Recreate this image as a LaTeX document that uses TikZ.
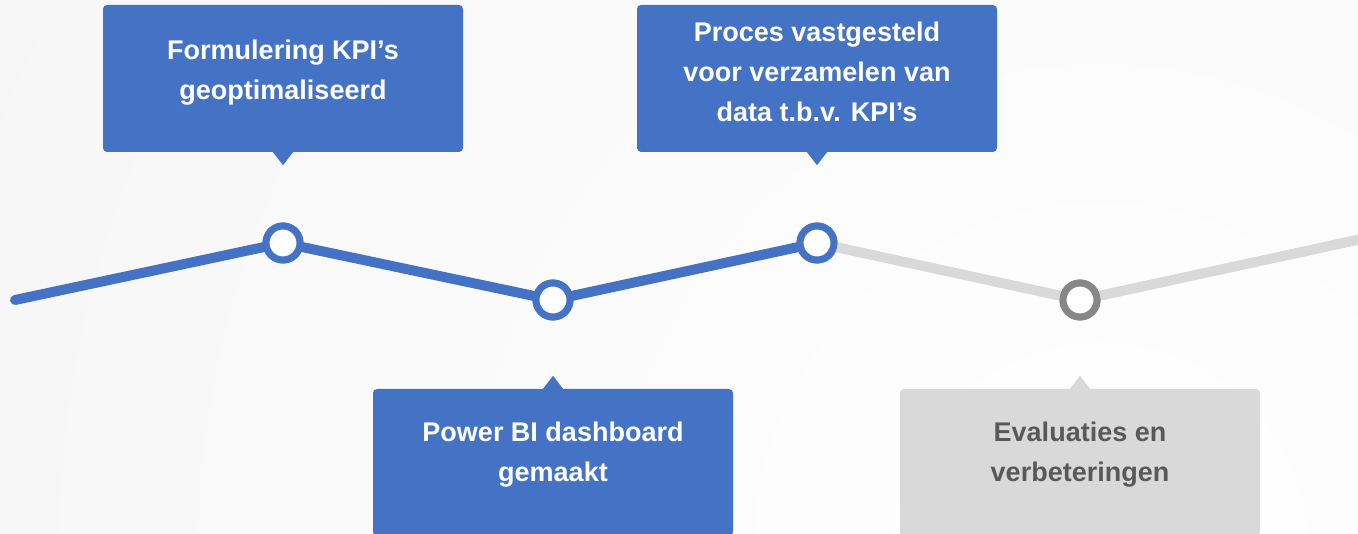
\documentclass[tikz,border=0pt]{standalone}
\usepackage{fontspec}
\setmainfont{Liberation Sans}
\definecolor{kblue}{HTML}{4472C4}
\definecolor{kgray}{HTML}{D9D9D9}
\definecolor{kring}{HTML}{878787}
\definecolor{ktext}{HTML}{595959}
\definecolor{kbg}{HTML}{EDEDED}
\begin{document}
\begin{tikzpicture}[x=1pt,y=-1pt,
  box/.style={rectangle, rounded corners=4pt, minimum width=360pt, minimum height=147pt, inner sep=0pt},
  bluebox/.style={box, fill=kblue},
  graybox/.style={box, fill=kgray},
  lbl/.style={align=center, font=\fontsize{27}{40}\selectfont\bfseries, inner sep=0pt},
  whitelbl/.style={lbl, text=white},
  graylbl/.style={lbl, text=ktext},
  dot/.style={circle, minimum size=34pt, inner sep=0pt, line width=7pt, fill=white},
  bluedot/.style={dot, draw=kblue},
  graydot/.style={dot, draw=kring},
  blueline/.style={draw=kblue, line width=10pt, line cap=round, line join=round},
  grayline/.style={draw=kgray, line width=10pt, line join=round}]
\useasboundingbox (0,0) rectangle (1358,534);
\clip (0,0) rectangle (1358,534);
% background
\shade[inner color=white, outer color=kbg] (-1400,-1950) rectangle (3600,3050);
% milestones
\node[bluedot] (c1) at (283,243) {};
\node[bluedot] (c2) at (553,300) {};
\node[bluedot] (c3) at (817,243) {};
\node[graydot] (c4) at (1080,300) {};
\coordinate (start) at (15,300);
\coordinate (finish) at (1380,235);
% connectors
\path[grayline] (c3.center) -- (c4.center) -- (finish);
\path[blueline] (start) -- (c1.center) -- (c2.center) -- (c3.center);
\node[bluedot] at (c1) {};
\node[bluedot] at (c2) {};
\node[bluedot] at (c3) {};
\node[graydot] at (c4) {};
% boxes
\node[bluebox] (b1) at (283,78.5) {};
\fill[kblue] ([xshift=-10pt]b1.south) -- ([xshift=10pt]b1.south) -- ([yshift=-13pt]b1.south) -- cycle;
\node[whitelbl] (t1) at (283,72.4) {Formulering KPI’s\\geoptimaliseerd};
\node[bluebox] (b2) at (817,78.5) {};
\fill[kblue] ([xshift=-10pt]b2.south) -- ([xshift=10pt]b2.south) -- ([yshift=-13pt]b2.south) -- cycle;
\node[whitelbl] (t2) at (817,72) {Proces vastgesteld\\voor verzamelen van\\data t.b.v. KPI’s};
\node[bluebox] (b3) at (553,462.5) {};
\fill[kblue] ([xshift=-10pt]b3.north) -- ([xshift=10pt]b3.north) -- ([yshift=13pt]b3.north) -- cycle;
\node[whitelbl] (t3) at (553,455) {Power BI dashboard\\gemaakt};
\node[graybox] (b4) at (1080,462.5) {};
\fill[kgray] ([xshift=-10pt]b4.north) -- ([xshift=10pt]b4.north) -- ([yshift=13pt]b4.north) -- cycle;
\node[graylbl] (t4) at (1080,455) {Evaluaties en\\verbeteringen};
\end{tikzpicture}
\end{document}
